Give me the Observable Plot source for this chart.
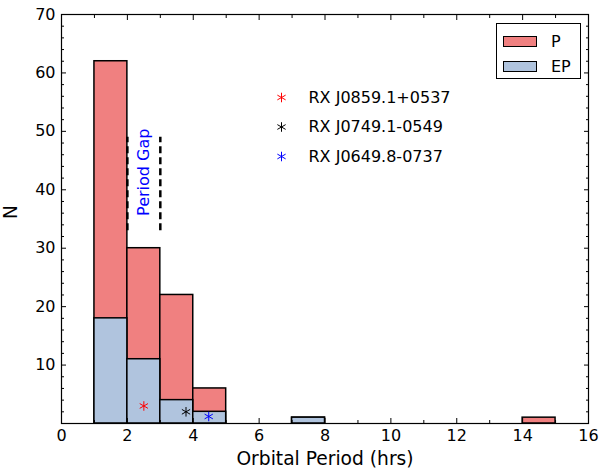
<!DOCTYPE html>
<html><head><meta charset="utf-8">
<script src="https://cdn.jsdelivr.net/npm/d3@7"></script>
<script src="https://cdn.jsdelivr.net/npm/@observablehq/plot@0.6"></script>
<style>
body{margin:0;background:#fff;font-family:'DejaVu Sans',sans-serif;}
#wrap{position:relative;width:599px;height:473px;}
#wrap svg{font-family:'DejaVu Sans',sans-serif !important;}
.legend{position:absolute;left:496px;top:23px;width:85px;height:56px;border:1px solid #000;background:#fff;box-sizing:border-box;font-size:16px;color:#000;}
.legend .row{position:absolute;left:6px;display:flex;align-items:center;}
.legend .sw{width:34px;height:11px;border:1px solid #000;box-sizing:border-box;margin-right:14px;}
</style></head><body><div id="wrap"></div>
<script>
// Histogram bins (hours): bin start, width 1
const binStarts = [1, 2, 3, 4, 7, 14];
const pCounts   = [62, 30, 22, 6, 1, 1];
const epCounts  = [18, 11, 4, 2, 1, 0];

// Highlighted systems
const markerNames   = ["RX J0859.1+0537", "RX J0749.1-0549", "RX J0649.8-0737"];
const markerColors  = ["red", "black", "blue"];
const markerPeriods = [2.5, 3.78, 4.47];
const markerN       = [3, 2, 1.2];

// Period gap annotation
const gapEdges = [2, 3];
const gapRange = [33, 49];
const gapLabel = "Period Gap";
const gapLabelN = 43;

// Axis ticks
const xMajor = [0, 2, 4, 6, 8, 10, 12, 14, 16];
const xMinor = [1, 3, 5, 7, 9, 11, 13, 15];
const yLabels = [10, 20, 30, 40, 50, 60, 70];
const yMajor = [0, 10, 20, 30, 40, 50, 60, 70];
const yMinor = [2,4,6,8,12,14,16,18,22,24,26,28,32,34,36,38,42,44,46,48,52,54,56,58,62,64,66,68];

const legendItems = ["P", "EP"];
const legendColors = ["#F08080", "#B0C4DE"];

const pBars = binStarts.map((s, i) => ({x1: s, x2: s + 1, n: pCounts[i]})).filter(d => d.n > 0);
const epBars = binStarts.map((s, i) => ({x1: s, x2: s + 1, n: epCounts[i]})).filter(d => d.n > 0);
const markers = markerNames.map((name, i) => ({name, color: markerColors[i], period: markerPeriods[i], n: markerN[i]}));

const tickAxes = [];
for (const anchor of ["bottom", "top"]) {
  tickAxes.push(Plot.axisX({anchor, ticks: xMajor, tickSize: -5, fill: "none", label: null}));
  tickAxes.push(Plot.axisX({anchor, ticks: xMinor, tickSize: -3, fill: "none", label: null}));
}
for (const anchor of ["left", "right"]) {
  tickAxes.push(Plot.axisY({anchor, ticks: yMajor, tickSize: -5, fill: "none", label: null}));
  tickAxes.push(Plot.axisY({anchor, ticks: yMinor, tickSize: -3, fill: "none", label: null}));
}

const legendMarks = markers.flatMap((m, i) => [
  Plot.dot([m], {frameAnchor: "top-left", dx: 220, dy: 83 + i * 29.5, symbol: "asterisk", stroke: m.color, r: 4.5, strokeWidth: 1}),
  Plot.text([m], {frameAnchor: "top-left", dx: 247, dy: 83 + i * 29.5, text: "name", textAnchor: "start", lineAnchor: "middle", fontSize: 16, fill: "black"})
]);

const chart = Plot.plot({
  width: 599,
  height: 473,
  marginLeft: 61,
  marginRight: 11,
  marginTop: 14,
  marginBottom: 50,
  style: {fontFamily: "'DejaVu Sans', sans-serif", fontSize: "16px", color: "black", background: "white"},
  x: {domain: [0, 16]},
  y: {domain: [0, 70]},
  marks: [
    Plot.rectY(pBars, {x1: "x1", x2: "x2", y: "n", fill: "#F08080", stroke: "black", strokeWidth: 1.5}),
    Plot.rectY(epBars, {x1: "x1", x2: "x2", y: "n", fill: "#B0C4DE", stroke: "black", strokeWidth: 1.5}),
    Plot.ruleX(gapEdges, {y1: gapRange[0], y2: gapRange[1], stroke: "black", strokeWidth: 2.5, strokeDasharray: "7,4"}),
    Plot.text([gapLabel], {x: (gapEdges[0] + gapEdges[1]) / 2, y: gapLabelN, text: d => d, rotate: -90, fill: "blue", fontSize: 16}),
    Plot.dot(markers, {x: "period", y: "n", symbol: "asterisk", stroke: "color", r: 4.5, strokeWidth: 1}),
    ...legendMarks,
    Plot.frame({stroke: "black", strokeWidth: 1.2}),
    ...tickAxes,
    Plot.axisX({ticks: xMajor, tickSize: 0, tickPadding: 6, fontSize: 16, label: null}),
    Plot.axisY({ticks: yLabels, tickSize: 0, tickPadding: 6, fontSize: 16, label: null}),
    Plot.text(["Orbital Period (hrs)"], {frameAnchor: "bottom", lineAnchor: "middle", dy: 36, text: d => d, fontSize: 18.67, fill: "black"}),
    Plot.text(["N"], {frameAnchor: "left", lineAnchor: "middle", dx: -50, text: d => d, rotate: -90, fontSize: 18.67, fill: "black"})
  ]
});

const wrap = document.getElementById("wrap");
wrap.appendChild(chart);
const leg = document.createElement("div");
leg.className = "legend";
legendItems.forEach((name, i) => {
  const row = document.createElement("div");
  row.className = "row";
  row.style.top = (8 + i * 25) + "px";
  const sw = document.createElement("div");
  sw.className = "sw";
  sw.style.background = legendColors[i];
  const t = document.createElement("span");
  t.textContent = name;
  row.appendChild(sw);
  row.appendChild(t);
  leg.appendChild(row);
});
wrap.appendChild(leg);
</script></body></html>
